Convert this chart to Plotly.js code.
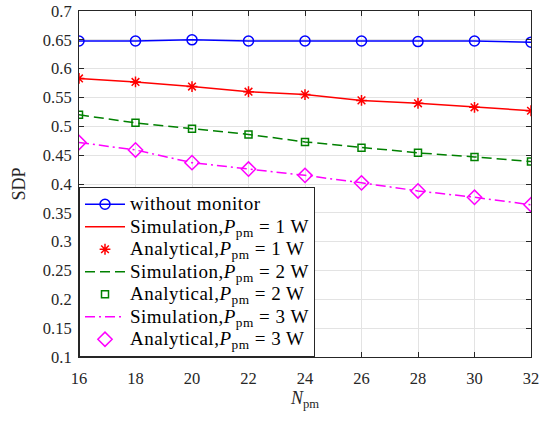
<!DOCTYPE html>
<html>
<head>
<meta charset="utf-8">
<script src="https://cdn.plot.ly/plotly-3.0.1.min.js"></script>
<style>html,body{margin:0;padding:0;background:#fff;}</style>
</head>
<body>
<div id="chart" style="width:540px;height:421px;"></div>
<script>
const N = [16, 18, 20, 22, 24, 26, 28, 30, 32];
const withoutMonitor = [0.648, 0.648, 0.650, 0.648, 0.648, 0.648, 0.647, 0.648, 0.646];
const sim1 = [0.583, 0.577, 0.569, 0.560, 0.555, 0.545, 0.540, 0.533, 0.527];
const ana1 = [0.583, 0.577, 0.569, 0.560, 0.555, 0.545, 0.540, 0.533, 0.527];
const sim2 = [0.520, 0.506, 0.496, 0.486, 0.473, 0.463, 0.454, 0.447, 0.439];
const ana2 = [0.520, 0.506, 0.496, 0.486, 0.473, 0.463, 0.454, 0.447, 0.439];
const sim3 = [0.472, 0.459, 0.437, 0.426, 0.415, 0.402, 0.388, 0.377, 0.364];
const ana3 = [0.472, 0.459, 0.437, 0.426, 0.415, 0.402, 0.388, 0.377, 0.364];
const names = [
  'without monitor',
  'Simulation,<i>P</i><sub>pm</sub> = 1 W',
  'Analytical,<i>P</i><sub>pm</sub> = 1 W',
  'Simulation,<i>P</i><sub>pm</sub> = 2 W',
  'Analytical,<i>P</i><sub>pm</sub> = 2 W',
  'Simulation,<i>P</i><sub>pm</sub> = 3 W',
  'Analytical,<i>P</i><sub>pm</sub> = 3 W'
];
const xTicks = [16, 18, 20, 22, 24, 26, 28, 30, 32];
const yTicks = [0.1, 0.15, 0.2, 0.25, 0.3, 0.35, 0.4, 0.45, 0.5, 0.55, 0.6, 0.65, 0.7];

const SERIF = '"Liberation Serif", "Times New Roman", serif';
const big = s => '<span style="font-size:19px;letter-spacing:0.5px">' + s + '</span>';

const traces = [
  {x: N, y: withoutMonitor, name: big(names[0]), mode: 'lines+markers',
   line: {color: '#0000ff', width: 1.5},
   marker: {symbol: 'circle-open', size: 10, color: '#0000ff', line: {width: 1.5}}},
  {x: N, y: sim1, name: big(names[1]), mode: 'lines', line: {color: '#ff0000', width: 1.5}},
  {x: N, y: ana1, name: big(names[2]), mode: 'markers',
   marker: {symbol: 'asterisk-open', size: 9, color: '#ff0000', line: {width: 1.5, color: '#ff0000'}}},
  {x: N, y: sim2, name: big(names[3]), mode: 'lines', line: {color: '#008000', width: 1.5, dash: '10px,5px'}},
  {x: N, y: ana2, name: big(names[4]), mode: 'markers',
   marker: {symbol: 'square-open', size: 7, color: '#008000', line: {width: 1.5}}},
  {x: N, y: sim3, name: big(names[5]), mode: 'lines', line: {color: '#ff00ff', width: 1.5, dash: '10px,4px,2px,4px'}},
  {x: N, y: ana3, name: big(names[6]), mode: 'markers',
   marker: {symbol: 'diamond-open', size: 11, color: '#ff00ff', line: {width: 1.5}}}
];

const axisCommon = {
  showline: true, linecolor: '#262626', linewidth: 1, mirror: 'ticks',
  ticks: 'inside', ticklen: 5, tickcolor: '#262626', tickwidth: 1,
  showgrid: true, gridcolor: '#e3e3e3', gridwidth: 1, zeroline: false,
  tickfont: {family: SERIF, size: 16.5, color: '#262626'}
};

const layout = {
  width: 540, height: 421,
  margin: {l: 79, r: 9, t: 11, b: 64},
  paper_bgcolor: '#ffffff', plot_bgcolor: '#ffffff',
  showlegend: true,
  font: {family: SERIF, color: '#262626'},
  xaxis: Object.assign({}, axisCommon, {
    range: [16, 32], tickvals: xTicks, ticktext: xTicks.map(String),
    ticklabelstandoff: 6,
    title: {text: '<i>N</i><sub>pm</sub>', font: {family: SERIF, size: 18, color: '#262626'}, standoff: 0}
  }),
  yaxis: Object.assign({}, axisCommon, {
    range: [0.1, 0.7], tickvals: yTicks, ticktext: yTicks.map(v => String(v)),
    ticklabelstandoff: 3,
    title: {text: 'SDP', font: {family: SERIF, size: 18, color: '#262626'}, standoff: 12}
  }),
  legend: {
    x: 0, y: 0, xanchor: 'left', yanchor: 'bottom',
    bgcolor: '#ffffff', bordercolor: '#262626', borderwidth: 1,
    font: {family: SERIF, size: 15, color: '#000000'},
    itemwidth: 40, tracegroupgap: 0
  }
};

Plotly.newPlot('chart', traces, layout, {displayModeBar: false, staticPlot: true});
</script>
</body>
</html>
